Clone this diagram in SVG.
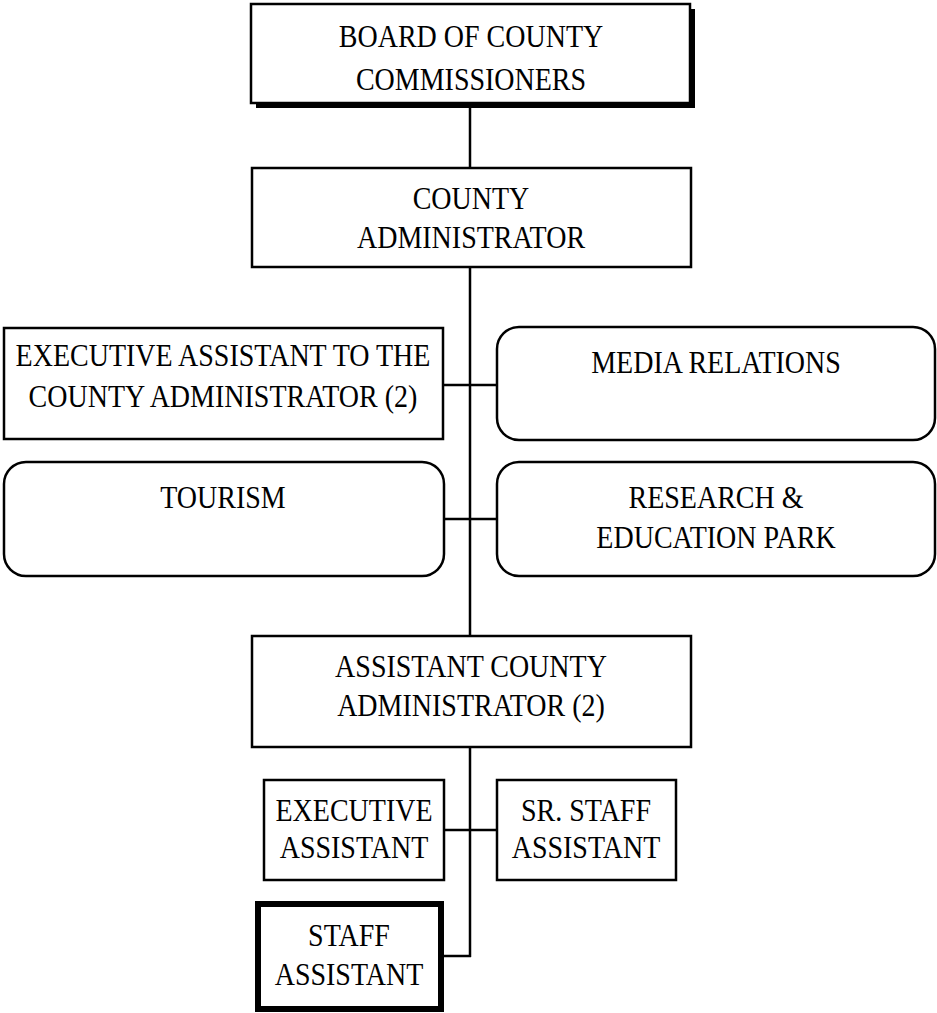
<svg xmlns="http://www.w3.org/2000/svg" width="937" height="1013" viewBox="0 0 937 1013">
  <style>
    .box { fill: #fff; stroke: #000; stroke-width: 2.5; }
    .thick { fill: #fff; stroke: #000; stroke-width: 6; }
    .shadow { fill: #000; }
    .wire { fill: none; stroke: #000; stroke-width: 2.5; }
    text { font-family: "Liberation Serif", "Times New Roman", serif; font-size: 28px; fill: #000; text-anchor: middle; }
  </style>
  <rect width="937" height="1013" fill="#fff"/>

  <!-- reporting lines -->
  <g id="connectors">
    <line class="wire" x1="470" y1="103" x2="470" y2="168"/>
    <line class="wire" x1="470" y1="267" x2="470" y2="636"/>
    <line class="wire" x1="443" y1="385" x2="497" y2="385"/>
    <line class="wire" x1="444" y1="519" x2="497" y2="519"/>
    <line class="wire" x1="470" y1="747" x2="470" y2="957"/>
    <line class="wire" x1="444" y1="830" x2="497" y2="830"/>
    <line class="wire" x1="441" y1="956" x2="471" y2="956"/>
  </g>

  <!-- labels use a slightly tall type: each line is placed by translate, then stretched vertically -->
  <g id="board">
    <rect class="shadow" x="256" y="9" width="439" height="99"/>
    <rect class="box" x="251" y="4" width="439" height="99"/>
    <text transform="translate(471,47) scale(1,1.14)">BOARD OF COUNTY</text>
    <text transform="translate(471,90) scale(1,1.14)">COMMISSIONERS</text>
  </g>

  <g id="county-administrator">
    <rect class="box" x="252" y="168" width="439" height="99"/>
    <text transform="translate(471,209) scale(1,1.14)">COUNTY</text>
    <text transform="translate(471,248) scale(1,1.14)">ADMINISTRATOR</text>
  </g>

  <g id="exec-assistant-county-admin">
    <rect class="box" x="4" y="328" width="439" height="111"/>
    <text transform="translate(223,366) scale(1,1.14)">EXECUTIVE ASSISTANT TO THE</text>
    <text transform="translate(223,407) scale(1,1.14)">COUNTY ADMINISTRATOR (2)</text>
  </g>

  <g id="media-relations">
    <rect class="box" x="497" y="327" width="438" height="113" rx="22"/>
    <text transform="translate(716,373) scale(1,1.14)">MEDIA RELATIONS</text>
  </g>

  <g id="tourism">
    <rect class="box" x="4" y="462" width="440" height="114" rx="22"/>
    <text transform="translate(223,508) scale(1,1.14)">TOURISM</text>
  </g>

  <g id="research-education-park">
    <rect class="box" x="497" y="462" width="438" height="114" rx="22"/>
    <text transform="translate(716,508) scale(1,1.14)">RESEARCH &amp;</text>
    <text transform="translate(716,548) scale(1,1.14)">EDUCATION PARK</text>
  </g>

  <g id="assistant-county-administrator">
    <rect class="box" x="252" y="636" width="439" height="111"/>
    <text transform="translate(471,677) scale(1,1.14)">ASSISTANT COUNTY</text>
    <text transform="translate(471,716) scale(1,1.14)">ADMINISTRATOR (2)</text>
  </g>

  <g id="executive-assistant">
    <rect class="box" x="264" y="780" width="180" height="100"/>
    <text transform="translate(354,821) scale(1,1.14)">EXECUTIVE</text>
    <text transform="translate(354,858) scale(1,1.14)">ASSISTANT</text>
  </g>

  <g id="sr-staff-assistant">
    <rect class="box" x="497" y="780" width="179" height="100"/>
    <text transform="translate(586,821) scale(1,1.14)">SR. STAFF</text>
    <text transform="translate(586,858) scale(1,1.14)">ASSISTANT</text>
  </g>

  <g id="staff-assistant">
    <rect class="thick" x="258" y="904" width="183" height="105"/>
    <text transform="translate(349,946) scale(1,1.14)">STAFF</text>
    <text transform="translate(349,985) scale(1,1.14)">ASSISTANT</text>
  </g>
</svg>
